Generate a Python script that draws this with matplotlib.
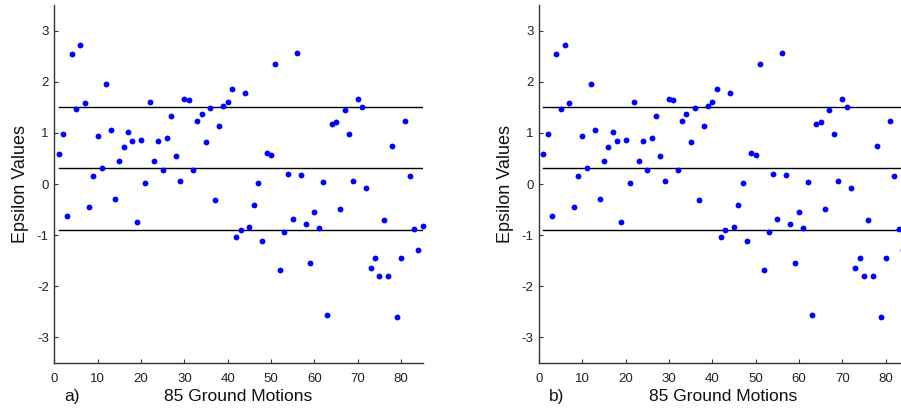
import numpy as np
import matplotlib
matplotlib.use("Agg")
import matplotlib.pyplot as plt

plt.rcParams['font.family'] = ['Liberation Sans', 'DejaVu Sans']
plt.rcParams['axes.unicode_minus'] = False

# Epsilon value of each ground motion (record number 1..85)
motion_ids = np.arange(1, 86)
epsilon = [
    0.58, 0.98, -0.62, 2.54, 1.47, 2.72, 1.58, -0.45, 0.15, 0.94,
    0.31, 1.95, 1.06, -0.29, 0.45, 0.72, 1.02, 0.84, -0.74, 0.86,
    0.02, 1.60, 0.45, 0.84, 0.27, 0.90, 1.33, 0.55, 0.06, 1.66,
    1.64, 0.27, 1.23, 1.37, 0.82, 1.49, -0.31, 1.13, 1.53, 1.61,
    1.86, -1.04, -0.90, 1.78, -0.84, -0.41, 0.02, -1.12, 0.60, 0.56,
    2.35, -1.69, -0.94, 0.19, -0.69, 2.56, 0.17, -0.78, -1.55, -0.55,
    -0.86, 0.03, -2.56, 1.17, 1.21, -0.49, 1.45, 0.98, 0.05, 1.66,
    1.51, -0.08, -1.65, -1.45, -1.80, -0.71, -1.80, 0.74, -2.60, -1.45,
    1.23, 0.15, -0.88, -1.30, -0.83,
]
# mean and +/- one standard deviation bands
band_levels = [1.51, 0.31, -0.89]

panel_tags = ['a)', 'b)']
x_ticks = [0, 10, 20, 30, 40, 50, 60, 70, 80]
y_ticks = [-3, -2, -1, 0, 1, 2, 3]

W, H = 901, 412
fig = plt.figure(figsize=(W / 100, H / 100), dpi=100)

axes_px = [(54.4, 422.7), (539.0, 907.3)]  # left / right edge of each panel
top_px, bottom_px = 5.0, 363.0

for (l, r), tag in zip(axes_px, panel_tags):
    ax = fig.add_axes([l / W, 1 - bottom_px / H, (r - l) / W, (bottom_px - top_px) / H])
    ax.plot(motion_ids, epsilon, 'o', color='#0000FF', markersize=4.2,
            markeredgewidth=0, clip_on=False, zorder=3)
    for lev in band_levels:
        ax.plot([1, 85], [lev, lev], color='black', lw=1.0, zorder=2)
    ax.set_xlim(0, 85)
    ax.set_ylim(-3.5, 3.5)
    ax.set_xticks(x_ticks)
    ax.set_yticks(y_ticks)
    ax.tick_params(direction='in', length=3, width=0.8, labelsize=9.5,
                   color='#333333', labelcolor='#222222')
    ax.tick_params(axis='x', pad=7)
    ax.tick_params(axis='y', pad=4)
    for s in ['top', 'right']:
        ax.spines[s].set_visible(False)
    for s in ['left', 'bottom']:
        ax.spines[s].set_color('#333333')
        ax.spines[s].set_linewidth(1.0)
    ax.set_ylabel('Epsilon Values', fontsize=13, color='#111111')
    ax.yaxis.set_label_coords(-0.068, 0.5)
    ax.set_xlabel('85 Ground Motions', fontsize=12.5, color='#111111', labelpad=3)
    fig.text((l + 10) / W, 1 - 397 / H, tag, fontsize=12.5, color='#111111',
             ha='left', va='center')

fig.savefig('out.png', dpi=100)
